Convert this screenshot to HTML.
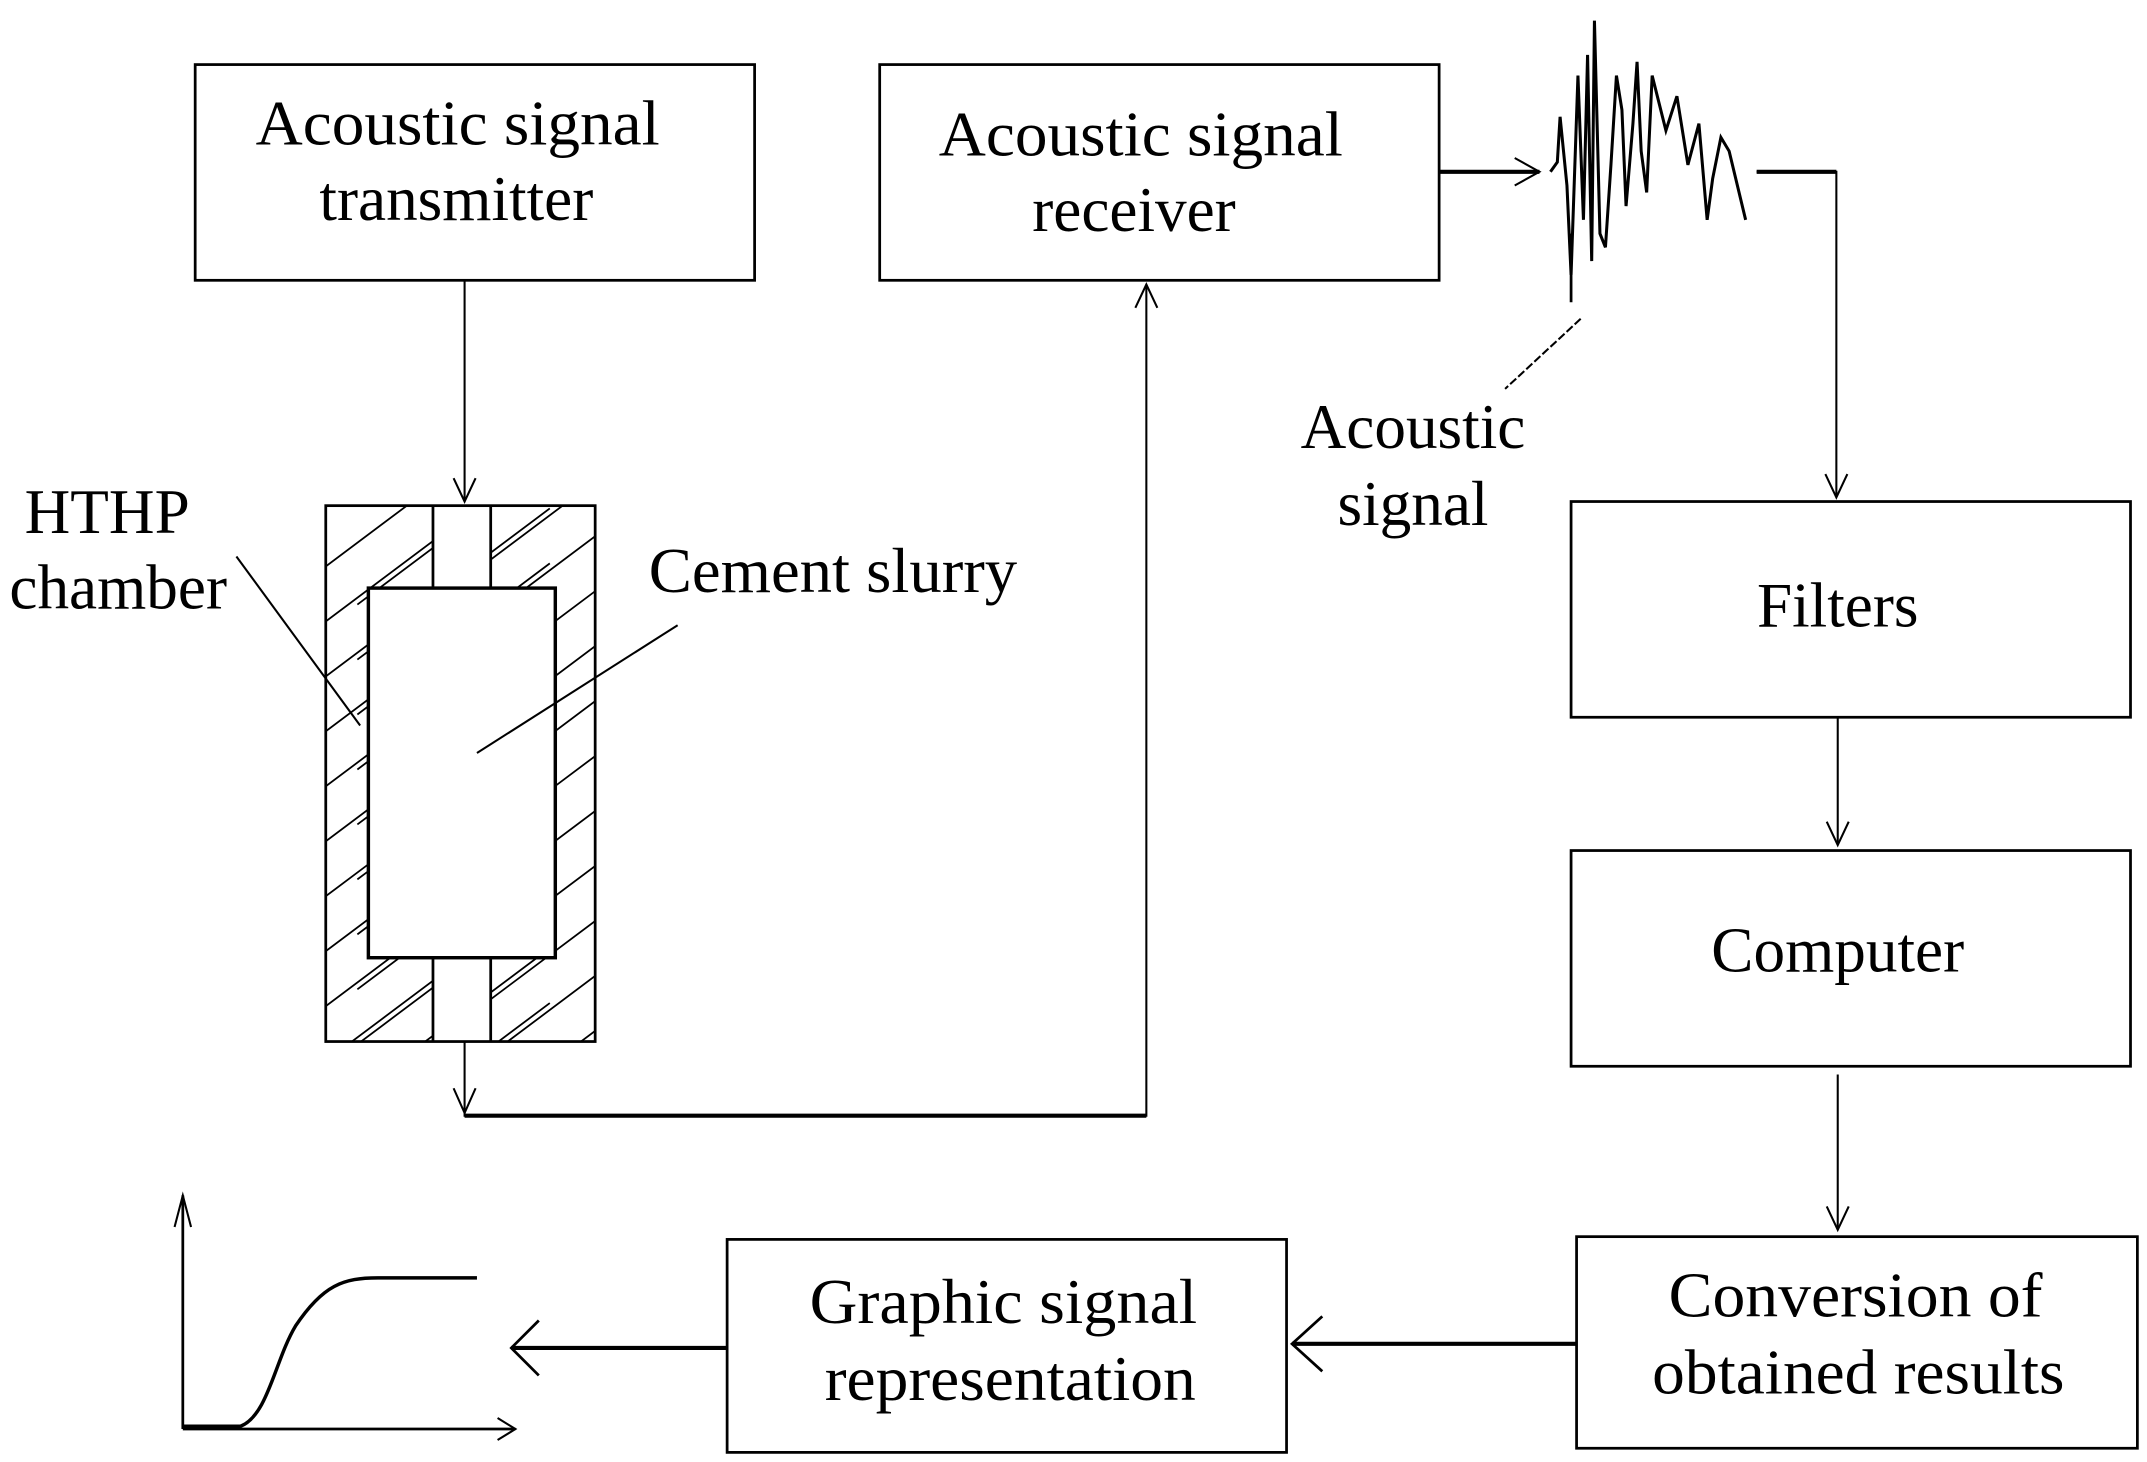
<!DOCTYPE html>
<html><head><meta charset="utf-8"><style>
html,body{margin:0;padding:0;background:#fff}
svg{display:block}
text{font-family:"Liberation Serif",serif;fill:#000}
</style></head><body>
<svg width="2147" height="1462" viewBox="0 0 1562 1064" preserveAspectRatio="none" xmlns="http://www.w3.org/2000/svg">
<defs>
<clipPath id="walls">
<path clip-rule="evenodd" d="M237,368H433V758H237Z M315,368H357V428H404V697H357V758H315V697H268V428H315Z"/>
</clipPath>
</defs>
<g fill="none" stroke="#000" stroke-width="2">
<rect x="142" y="47" width="407" height="157"/>
<rect x="640" y="47" width="407" height="157"/>
<rect x="1143" y="365" width="407" height="157"/>
<rect x="1143" y="619" width="407" height="157"/>
<rect x="1147" y="900" width="408" height="154"/>
<rect x="529" y="902" width="407" height="155"/>
<!-- chamber -->
<rect x="237" y="368" width="196" height="390"/>
<rect x="268" y="428" width="136" height="269" stroke-width="2.5"/>
<path d="M315,368V428 M357,368V428 M315,697V758 M357,697V758"/>
<g clip-path="url(#walls)" stroke-width="1.3">
<path d="M200,440L400,290 M200,480L400,330 M200,520L400,370 M200,560L400,410 M200,600L400,450 M200,640L400,490 M200,680L400,530 M200,720L400,570 M200,760L400,610 M200,800L400,650 M200,840L400,690 M200,880L400,730 M200,920L400,770
M260,440L460,290 M260,480L460,330 M260,520L460,370 M260,560L460,410 M260,600L460,450 M260,640L460,490 M260,680L460,530 M260,720L460,570 M260,760L460,610 M260,800L460,650 M260,840L460,690 M260,880L460,730 M260,920L460,770 M260,960L460,810"/>
</g>
<!-- connectors -->
<path d="M338,204V365" stroke-width="1.5"/>
<path d="M330,348L338,365L346,348" stroke-width="1.5"/>
<path d="M338,758V812H834V207" stroke-width="1.5"/>
<path d="M338,812H834" stroke-width="3"/>
<path d="M330,792L338,810L346,792" stroke-width="1.5"/>
<path d="M826,224L834,207L842,224" stroke-width="1.5"/>
<path d="M1047,125H1120" stroke-width="3"/>
<path d="M1102,115L1120,125L1102,135" stroke-width="1.5"/>
<path d="M1278,125H1336V362" stroke-width="1.5"/>
<path d="M1278,125H1336" stroke-width="3"/>
<path d="M1328,345L1336,362L1344,345" stroke-width="1.5"/>
<path d="M1337,522V615" stroke-width="1.5"/>
<path d="M1329,598L1337,615L1345,598" stroke-width="1.5"/>
<path d="M1337,782V895" stroke-width="1.5"/>
<path d="M1329,878L1337,895L1345,878" stroke-width="1.5"/>
<path d="M1147,978H940" stroke-width="3"/>
<path d="M962,958L940,978L962,998" stroke-width="2"/>
<path d="M529,981H372" stroke-width="3"/>
<path d="M392,961L372,981L392,1001" stroke-width="2"/>
<!-- waveform -->
<polyline stroke-width="2.2" points="1128,125 1133,118 1135,85 1140,135 1143,200 1148,55 1152,160 1155,40 1158,190 1160,15 1164,170 1168,180 1172,120 1176,55 1180,80 1183,150 1188,90 1191,45 1194,110 1198,140 1202,55 1212,95 1220,70 1228,120 1236,90 1242,160 1246,130 1252,100 1258,110 1270,160"/>
<path d="M1143,170V220" stroke-width="2"/>
<!-- leaders -->
<path d="M1150,232L1095,283" stroke-width="1.5" stroke-dasharray="6,2"/>
<path d="M172,405L262,528" stroke-width="1.5"/>
<path d="M493,455L347,548" stroke-width="1.5"/>
<!-- graph -->
<path d="M133,1040V870 M133,1040H375" stroke-width="2"/>
<path d="M127,893L133,870L139,893 M362,1032L375,1040L362,1048" stroke-width="1.5"/>
<path d="M133,1038H175C195,1030 200,990 215,965C235,935 250,930 275,930H347" stroke-width="2.5"/>
</g>
<g font-size="46">
<text x="333" y="105" text-anchor="middle" textLength="294" lengthAdjust="spacingAndGlyphs">Acoustic signal</text>
<text x="332" y="160" text-anchor="middle">transmitter</text>
<text x="830" y="113" text-anchor="middle" textLength="294" lengthAdjust="spacingAndGlyphs">Acoustic signal</text>
<text x="825" y="168" text-anchor="middle">receiver</text>
<text x="1028" y="326" text-anchor="middle">Acoustic</text>
<text x="1028" y="382" text-anchor="middle">signal</text>
<text x="1337" y="456" text-anchor="middle">Filters</text>
<text x="1337" y="707" text-anchor="middle">Computer</text>
<text x="1350" y="958" text-anchor="middle" textLength="272" lengthAdjust="spacingAndGlyphs">Conversion of</text>
<text x="1352" y="1014" text-anchor="middle" textLength="300" lengthAdjust="spacingAndGlyphs">obtained results</text>
<text x="730" y="963" text-anchor="middle" textLength="282" lengthAdjust="spacingAndGlyphs">Graphic signal</text>
<text x="735" y="1019" text-anchor="middle" textLength="270" lengthAdjust="spacingAndGlyphs">representation</text>
<text x="78" y="388" text-anchor="middle">HTHP</text>
<text x="86" y="443" text-anchor="middle">chamber</text>
<text x="606" y="431" text-anchor="middle" textLength="268" lengthAdjust="spacingAndGlyphs">Cement slurry</text>
</g>
</svg>
</body></html>
